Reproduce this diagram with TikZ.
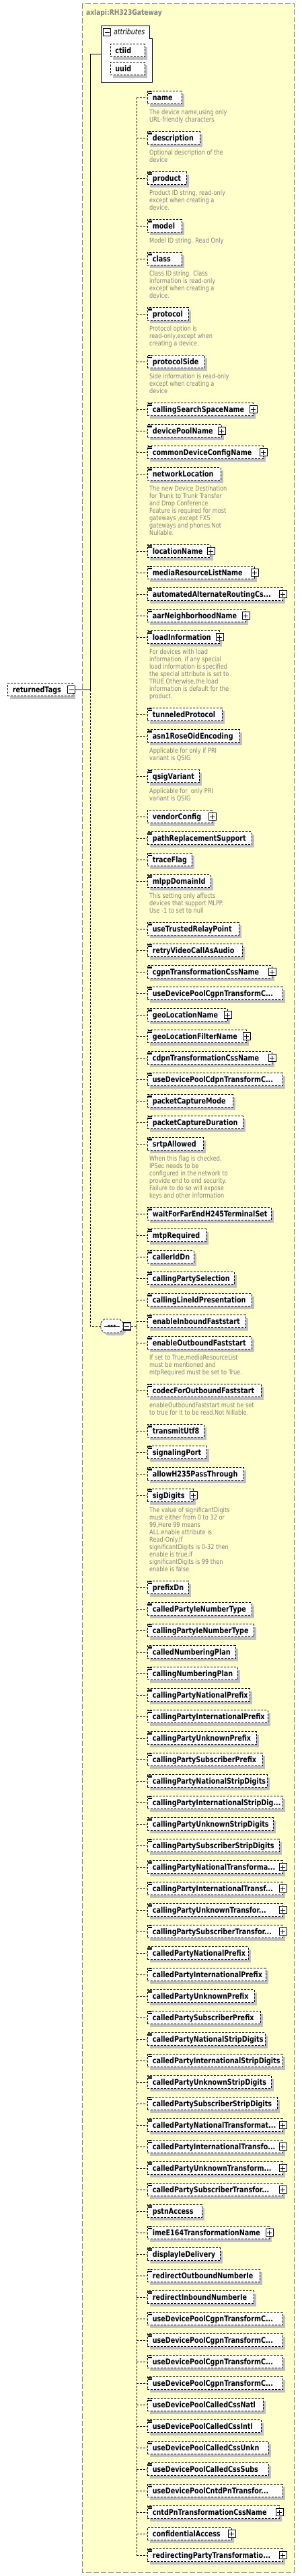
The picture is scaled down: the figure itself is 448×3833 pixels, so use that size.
\documentclass[tikz,border=0pt]{standalone}
\usepackage{fontspec}
\setmainfont{DejaVu Sans}[FakeStretch=0.82]
\usetikzlibrary{shadows}
\definecolor{bgyellow}{HTML}{FFFFCC}
\definecolor{bordergray}{HTML}{808080}
\definecolor{descgray}{HTML}{808080}
\definecolor{shgray}{HTML}{C0C0C0}
\tikzset{
  elbox/.style={draw, line width=0.8pt, dash pattern=on 3pt off 2pt, fill=white, anchor=west,
    minimum height=19pt, inner xsep=7.5pt, inner ysep=0pt, text height=10pt, text depth=2pt,
    font=\fontsize{11.7}{14}\selectfont\bfseries,
    general shadow={fill=shgray, shadow xshift=4pt, shadow yshift=-4pt}},
  conn/.style={line width=0.8pt, dash pattern=on 3pt off 2pt},
  desc/.style={anchor=north west, align=left, inner sep=0pt, text=descgray, font=\fontsize{10}{11}\selectfont},
  pm/.style={draw, line width=1.1pt, fill=white, minimum size=11pt, inner sep=0pt},
  trunkline/.style={line width=1pt},
}
\newcommand\xel[4]{\node[elbox] (#1) at (219,-#2) {\makebox[\dimexpr #3pt-234pt\relax][l]{#4}};
  \draw[conn] (bus |- #1.west) -- (#1.west);}
\newcommand\xic[1]{\draw[line width=0.7pt] ([xshift=1.2pt,yshift=-1pt]#1.north west) -- +(5.5,0)
  ([xshift=1.2pt,yshift=-2.8pt]#1.north west) -- +(5.5,0)
  ([xshift=1.2pt,yshift=-4.6pt]#1.north west) -- +(5.5,0);}
\newcommand\xpl[1]{\node[pm] (#1p) at (#1.east) {};
  \draw[line width=1pt] ([xshift=-3.5pt]#1p.center) -- ([xshift=3.5pt]#1p.center)
  ([yshift=-3.5pt]#1p.center) -- ([yshift=3.5pt]#1p.center);}
\newcommand\xe[4]{\xel{#1}{#2}{#3}{#4}\xic{#1}}
\newcommand\xep[4]{\xel{#1}{#2}{#3}{#4}\xic{#1}\xpl{#1}}
\newcommand\xds[2]{\node[desc] (#1d) at ([xshift=3pt,yshift=-7.3pt]#1.south west) {\rule{0pt}{8.5pt}#2};}
\begin{document}
\begin{tikzpicture}[x=1pt,y=1pt]
\useasboundingbox (0,0) rectangle (448,-3833);
\fill[white] (0,0) rectangle (448,-3833);
\draw[bordergray, line width=1pt, dash pattern=on 8pt off 3pt, fill=bgyellow] (122,-5.3) rectangle (437.3,-3827);
\node[anchor=base west, text=descgray, font=\fontsize{11.1}{13}\selectfont\bfseries, inner sep=0pt] (title) at (128,-22.5) {axlapi:RH323Gateway};
% attributes
\node[inner sep=0pt, minimum width=76pt, minimum height=84pt, anchor=north west] (attr) at (150,-38) {};
\draw[line width=1pt, fill=white] (150,-38) -- (222,-38) -- (222,-57) -- (226.5,-57) -- (226.5,-122) -- (150,-122) -- cycle;
\node[pm] (attrm) at (159,-48) {};
\draw[line width=1pt] ([xshift=-3.5pt]attrm.center) -- ([xshift=3.5pt]attrm.center);
\node[anchor=base west, inner sep=0pt, font=\fontsize{11.5}{13}\selectfont\itshape] (attrt) at (169,-51.5) {attributes};
\node[elbox] (ctiid) at (163.5,-75) {\makebox[36.5pt][l]{ctiid}};
\node[elbox] (uuid) at (163.5,-102) {\makebox[36.5pt][l]{uuid}};
% returnedTags
\node[elbox] (rt) at (11,-1026) {\makebox[82pt][l]{returnedTags}};
\node[pm] (rtm) at (106,-1026) {};
\draw[line width=1pt] ([xshift=-3.5pt]rtm.center) -- ([xshift=3.5pt]rtm.center);
\coordinate (tk) at (134,0);
\coordinate (bus) at (203,0);
% sequence
\node[inner sep=0pt, minimum width=33pt, minimum height=20pt] (seq) at (166.5,-1973) {};
\fill[shgray, shift={(4,-4)}] (150,-1968) -- (155,-1963) -- (178,-1963) -- (183,-1968) -- (183,-1978) -- (178,-1983) -- (155,-1983) -- (150,-1978) -- cycle;
\draw[line width=0.8pt, dash pattern=on 3pt off 2pt, fill=white] (150,-1968) -- (155,-1963) -- (178,-1963) -- (183,-1968) -- (183,-1978) -- (178,-1983) -- (155,-1983) -- (150,-1978) -- cycle;
\draw[line width=1pt] (155,-1973) -- (178,-1973);
\fill (160.5,-1974.3) rectangle +(2.6,2.6) (164.7,-1974.3) rectangle +(2.6,2.6) (168.9,-1974.3) rectangle +(2.6,2.6);
\node[pm] (seqm) at (188.7,-1973.5) {};
\draw[line width=1pt] ([xshift=-3.5pt]seqm.center) -- ([xshift=3.5pt]seqm.center);
% trunk
\draw[trunkline] (rtm.east) -- (tk |- rtm.east) -- (tk |- attr.west) -- (attr.west);
\draw[conn] (tk |- rtm.east) -- (tk |- seq.west) -- (seq.west);
% elements
\xe{e1}{145}{270}{name}
\xds{e1}{The device name,using only\\URL-friendly characters}
\xe{e2}{205}{297}{description}
\xds{e2}{Optional description of the\\device}
\xe{e3}{265}{277}{product}
\xds{e3}{Product ID string, read-only\\except when creating a\\device.}
\xe{e4}{336}{270}{model}
\xds{e4}{Model ID string. Read Only}
\xe{e5}{385}{270}{class}
\xds{e5}{Class ID string. Class\\information is read-only\\except when creating a\\device.}
\xe{e6}{467}{280}{protocol}
\xds{e6}{Protocol option is\\read-only,except when\\creating a device.}
\xe{e7}{538}{304}{protocolSide}
\xds{e7}{Side information is read-only\\except when creating a\\device}
\xep{e8}{609}{376}{callingSearchSpaceName}
\xep{e9}{641}{329}{devicePoolName}
\xep{e10}{673}{391}{commonDeviceConfigName}
\xe{e11}{705}{328}{networkLocation}
\xds{e11}{The new Device Destination\\for Trunk to Trunk Transfer\\and Drop Conference\\Feature is required for most\\gateways ,except FXS\\gateways and phones.Not\\Nullable.}
\xep{e12}{820}{313}{locationName}
\xep{e13}{852}{378}{mediaResourceListName}
\xep{e14}{884}{420}{automatedAlternateRoutingCs...}
\xep{e15}{916}{365}{aarNeighborhoodName}
\xep{e16}{948}{326}{loadInformation}
\xds{e16}{For devices with load\\information, if any special\\load information is specified\\the special attribute is set to\\TRUE.Otherwise,the load\\information is default for the\\product.}
\xe{e17}{1063}{330}{tunneledProtocol}
\xe{e18}{1095}{356}{asn1RoseOidEncoding}
\xds{e18}{Applicable for only if PRI\\variant is QSIG}
\xe{e19}{1155}{296}{qsigVariant}
\xds{e19}{Applicable for\ \ only PRI\\variant is QSIG}
\xel{e20}{1215}{315}{vendorConfig}\xpl{e20}
\xe{e21}{1247}{374}{pathReplacementSupport}
\xe{e22}{1279}{285}{traceFlag}
\xe{e23}{1311}{313}{mlppDomainId}
\xds{e23}{This setting only affects\\devices that support MLPP.\\Use -1 to set to null}
\xe{e24}{1382}{355}{useTrustedRelayPoint}
\xe{e25}{1414}{360}{retryVideoCallAsAudio}
\xep{e26}{1446}{404}{cgpnTransformationCssName}
\xe{e27}{1478}{420}{useDevicePoolCgpnTransformC...}
\xep{e28}{1510}{338}{geoLocationName}
\xep{e29}{1542}{366}{geoLocationFilterName}
\xep{e30}{1574}{404}{cdpnTransformationCssName}
\xe{e31}{1606}{420}{useDevicePoolCdpnTransformC...}
\xe{e32}{1638}{346}{packetCaptureMode}
\xe{e33}{1670}{361}{packetCaptureDuration}
\xe{e34}{1702}{302}{srtpAllowed}
\xds{e34}{When this flag is checked,\\IPSec needs to be\\configured in the network to\\provide end to end security.\\Failure to do so will expose\\keys and other information}
\xe{e35}{1806}{403}{waitForFarEndH245TerminalSet}
\xe{e36}{1838}{306}{mtpRequired}
\xe{e37}{1870}{288}{callerIdDn}
\xe{e38}{1902}{348}{callingPartySelection}
\xe{e39}{1934}{374}{callingLineIdPresentation}
\xe{e40}{1966}{365}{enableInboundFaststart}
\xe{e41}{1998}{374}{enableOutboundFaststart}
\xds{e41}{If set to True,mediaResourceList\\must be mentioned and\\mtpRequired must be set to True.}
\xe{e42}{2069}{388}{codecForOutboundFaststart}
\xds{e42}{enableOutboundFaststart must be set\\to true for it to be read.Not Nillable.}
\xe{e43}{2129}{303}{transmitUtf8}
\xe{e44}{2161}{307}{signalingPort}
\xe{e45}{2193}{362}{allowH235PassThrough}
\xep{e46}{2225}{287}{sigDigits}
\xds{e46}{The value of significantDigits\\must either from 0 to 32 or\\99,Here 99 means\\ALL.enable attribute is\\Read-Only.If\\significantDigits is 0-32 then\\enable is true,if\\significantDigits is 99 then\\enable is false.}
\xe{e47}{2362}{280}{prefixDn}
\xe{e48}{2394}{374}{calledPartyIeNumberType}
\xe{e49}{2426}{377}{callingPartyIeNumberType}
\xe{e50}{2458}{350}{calledNumberingPlan}
\xe{e51}{2490}{353}{callingNumberingPlan}
\xe{e52}{2522}{371}{callingPartyNationalPrefix}
\xe{e53}{2554}{398}{callingPartyInternationalPrefix}
\xe{e54}{2586}{381}{callingPartyUnknownPrefix}
\xe{e55}{2618}{390}{callingPartySubscriberPrefix}
\xe{e56}{2650}{397}{callingPartyNationalStripDigits}
\xe{e57}{2682}{420}{callingPartyInternationalStripDig...}
\xe{e58}{2714}{406}{callingPartyUnknownStripDigits}
\xe{e59}{2746}{415}{callingPartySubscriberStripDigits}
\xep{e60}{2778}{420}{callingPartyNationalTransforma...}
\xep{e61}{2810}{420}{callingPartyInternationalTransf...}
\xep{e62}{2842}{420}{callingPartyUnknownTransfor...}
\xep{e63}{2874}{420}{callingPartySubscriberTransfor...}
\xe{e64}{2906}{369}{calledPartyNationalPrefix}
\xe{e65}{2938}{395}{calledPartyInternationalPrefix}
\xe{e66}{2970}{378}{calledPartyUnknownPrefix}
\xe{e67}{3002}{387}{calledPartySubscriberPrefix}
\xe{e68}{3034}{394}{calledPartyNationalStripDigits}
\xe{e69}{3066}{420}{calledPartyInternationalStripDigits}
\xe{e70}{3098}{403}{calledPartyUnknownStripDigits}
\xe{e71}{3130}{412}{calledPartySubscriberStripDigits}
\xep{e72}{3162}{420}{calledPartyNationalTransformat...}
\xep{e73}{3194}{420}{calledPartyInternationalTransfo...}
\xep{e74}{3226}{420}{calledPartyUnknownTransform...}
\xep{e75}{3258}{420}{calledPartySubscriberTransfor...}
\xe{e76}{3290}{300}{pstnAccess}
\xep{e77}{3322}{400}{imeE164TransformationName}
\xe{e78}{3354}{327}{displayIeDelivery}
\xe{e79}{3386}{386}{redirectOutboundNumberIe}
\xe{e80}{3418}{377}{redirectInboundNumberIe}
\xe{e81}{3450}{420}{useDevicePoolCgpnTransformC...}
\xe{e82}{3482}{420}{useDevicePoolCgpnTransformC...}
\xe{e83}{3514}{420}{useDevicePoolCgpnTransformC...}
\xe{e84}{3546}{420}{useDevicePoolCgpnTransformC...}
\xe{e85}{3578}{391}{useDevicePoolCalledCssNatl}
\xe{e86}{3610}{388}{useDevicePoolCalledCssIntl}
\xe{e87}{3642}{399}{useDevicePoolCalledCssUnkn}
\xe{e88}{3674}{399}{useDevicePoolCalledCssSubs}
\xe{e89}{3706}{420}{useDevicePoolCntdPnTransfor...}
\xep{e90}{3738}{415}{cntdPnTransformationCssName}
\xel{e91}{3770}{344}{confidentialAccess}\xpl{e91}
\xep{e92}{3802}{420}{redirectingPartyTransformatio...}
% bus
\draw[conn] (bus |- e1.west) -- (bus |- e92.west);
\draw[conn] (seqm.east) -- (seqm.east -| bus);
\end{tikzpicture}
\end{document}
